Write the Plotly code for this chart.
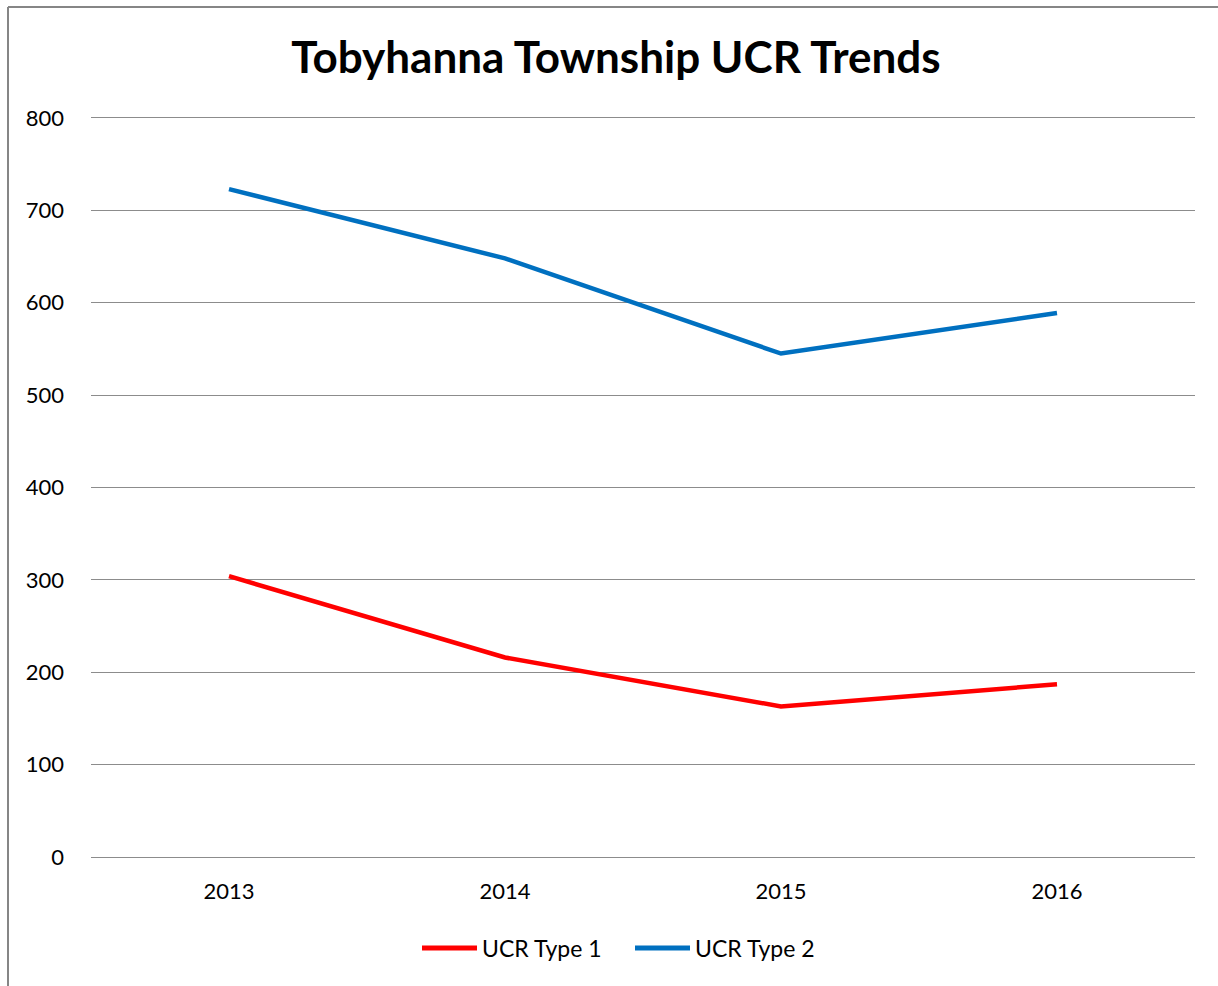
import plotly.graph_objects as go

years = ["2013", "2014", "2015", "2016"]
ucr_type1 = [304, 216, 163, 187]
ucr_type2 = [723, 648, 545, 589]
y_ticks = [0, 100, 200, 300, 400, 500, 600, 700, 800]
series = [("UCR Type 1", ucr_type1, "#ff0000"), ("UCR Type 2", ucr_type2, "#0070c0")]

W, H = 1218, 986
ML, MR, MT, MB = 91, 23, 118, 129
pw = W - ML - MR
ph = H - MT - MB

FONT = "Lato"
GRID = "#8c8c8c"


def px_x(x):
    return (x - ML) / pw


def px_y(y):
    return (H - MB - y) / ph


fig = go.Figure()
for name, vals, color in series:
    fig.add_trace(go.Scatter(x=years, y=vals, name=name, mode="lines",
                             line=dict(color=color, width=4.5)))

# outer frame of the chart area (left and top edges)
fx, fy = px_x(8), px_y(7)
fig.add_shape(type="line", xref="paper", yref="paper", x0=fx, x1=fx, y0=-0.5, y1=fy,
              line=dict(color="#868686", width=2))
fig.add_shape(type="line", xref="paper", yref="paper", x0=fx, x1=1.2, y0=fy, y1=fy,
              line=dict(color="#868686", width=2))

# legend below the plot: line sample followed by the series name
legend_x = [422, 635]
ly = px_y(948)
for (name, vals, color), lx in zip(series, legend_x):
    fig.add_shape(type="line", xref="paper", yref="paper", x0=px_x(lx), x1=px_x(lx + 55),
                  y0=ly, y1=ly, line=dict(color=color, width=5))
    fig.add_annotation(xref="paper", yref="paper", x=px_x(lx + 58), y=ly, text=name,
                       showarrow=False, xanchor="left", yanchor="middle",
                       font=dict(family=FONT, size=23, color="black"))

fig.update_layout(
    width=W, height=H,
    margin=dict(l=ML, r=MR, t=MT, b=MB),
    paper_bgcolor="white", plot_bgcolor="white",
    title=dict(text="<b>Tobyhanna Township UCR Trends</b>", x=616 / W, xanchor="center",
               y=1 - 58 / H, yanchor="middle",
               font=dict(family=FONT, size=44, color="black")),
    font=dict(family=FONT, size=22, color="black"),
    showlegend=False,
    # axis line mirrored top/bottom supplies the 0 and 800 grid lines
    xaxis=dict(type="category", range=[-0.5, 3.5], showgrid=False, zeroline=False,
               showline=True, mirror=True, linecolor=GRID, linewidth=1.3,
               ticks="", ticklabelstandoff=14, tickfont=dict(family=FONT, size=22)),
    yaxis=dict(range=[0, 800], tickvals=y_ticks, showgrid=True, gridcolor=GRID,
               gridwidth=1.3, zeroline=False, showline=False, ticks="",
               ticklabelstandoff=26, tickfont=dict(family=FONT, size=22)),
)

fig.write_html("out.html")
